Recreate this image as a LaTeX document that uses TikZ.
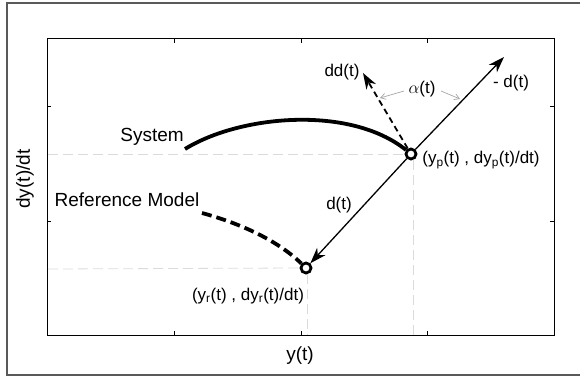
\documentclass[tikz,border=0pt]{standalone}
\usepackage{fontspec}
\setmainfont{Liberation Sans}
\usetikzlibrary{arrows.meta}
\begin{document}
\begin{tikzpicture}[x=1pt,y=-1pt,
  lbl/.style={font=\fontsize{19}{22}\selectfont, inner sep=0pt},
  slbl/.style={font=\fontsize{17}{20}\selectfont, inner sep=0pt},
  guide/.style={draw=black!14, line width=0.8pt, dash pattern=on 10pt off 5pt},
  tickln/.style={line width=1pt},
  frameln/.style={draw=black!65, line width=1.6pt},
  pt/.style={circle, draw=black, fill=white, line width=2.8pt, minimum size=10pt, inner sep=0pt},
  vec/.style={line width=1.3pt, -{Stealth[length=16pt,width=11pt,inset=5pt]}},
  dvec/.style={line width=1.8pt, dash pattern=on 6pt off 4pt, -{Stealth[length=16pt,width=11pt,inset=5pt]}},
  angarrow/.style={draw=black!35, line width=0.7pt, -{Straight Barb[length=5pt,width=6pt]}},
  syscurve/.style={line width=3.8pt},
  refcurve/.style={line width=3.8pt, dash pattern=on 10pt off 5pt}
]
\useasboundingbox (0,0) rectangle (580,377);
% outer frame (open to the right)
\draw[frameln] (582,3) -- (7,3) -- (7,375) -- (582,375);
% axes box
\draw[line width=1pt] (47,39) rectangle (554,335);
\foreach \xx in {174,301,427} {
  \draw[tickln] (\xx,335) -- (\xx,331);
  \draw[tickln] (\xx,39) -- (\xx,43);
}
\foreach \yy in {107,221} {
  \draw[tickln] (47,\yy) -- (51,\yy);
  \draw[tickln] (554,\yy) -- (550,\yy);
}
% points
\node[pt] (P) at (411,154) {};
\node[pt] (R) at (306,268) {};
\coordinate (PL) at (48,154);
\coordinate (PB) at (413,335);
\coordinate (RL) at (48,269);
\coordinate (RB) at (307,335);
\coordinate (tipm) at (504,57);
\coordinate (tipdd) at (363,73);
% guide lines
\draw[guide] (PL) -- (P.west);
\draw[guide] (P.south) ++(2,0) coordinate (Ps) -- (PB);
\draw[guide] (RL) -- (R.west);
\draw[guide] (R.south) ++(1,0) coordinate (Rs) -- (RB);
% curves
\draw[syscurve] (185,149) .. controls (240,115) and (350,105) .. (P);
\draw[refcurve] (202,213) .. controls (235,222) and (275,238) .. (R);
% vectors
\draw[vec] (P) -- (R);
\draw[vec] (P) -- (tipm);
\draw[dvec] (P) -- (tipdd);
% labels
\node[lbl] (sys) at (152,137) {System};
\node[lbl] (refm) at (127,200) {Reference Model};
\node[slbl] (dd) at (342,72) {dd(t)};
\node[slbl] (alpha) at (422,89) {$\alpha$(t)};
\node[slbl] (md) at (511,83) {- d(t)};
\node[slbl] (plab) at (481,160) {(y\textsubscript{p}(t) , dy\textsubscript{p}(t)/dt)};
\node[slbl] (dlab) at (339,205) {d(t)};
\node[slbl] (rlab) at (248,296) {(y\textsubscript{r}(t) , dy\textsubscript{r}(t)/dt)};
\node[lbl] (xlab) at (300,356) {y(t)};
\node[lbl, rotate=90] (ylab) at (25,179) {dy(t)/dt};
% angle arrows
\coordinate (aL) at (380,98);
\coordinate (aR) at (460,99);
\draw[angarrow] (404,91) -- (aL);
\draw[angarrow] (441,91) -- (aR);
\end{tikzpicture}
\end{document}
